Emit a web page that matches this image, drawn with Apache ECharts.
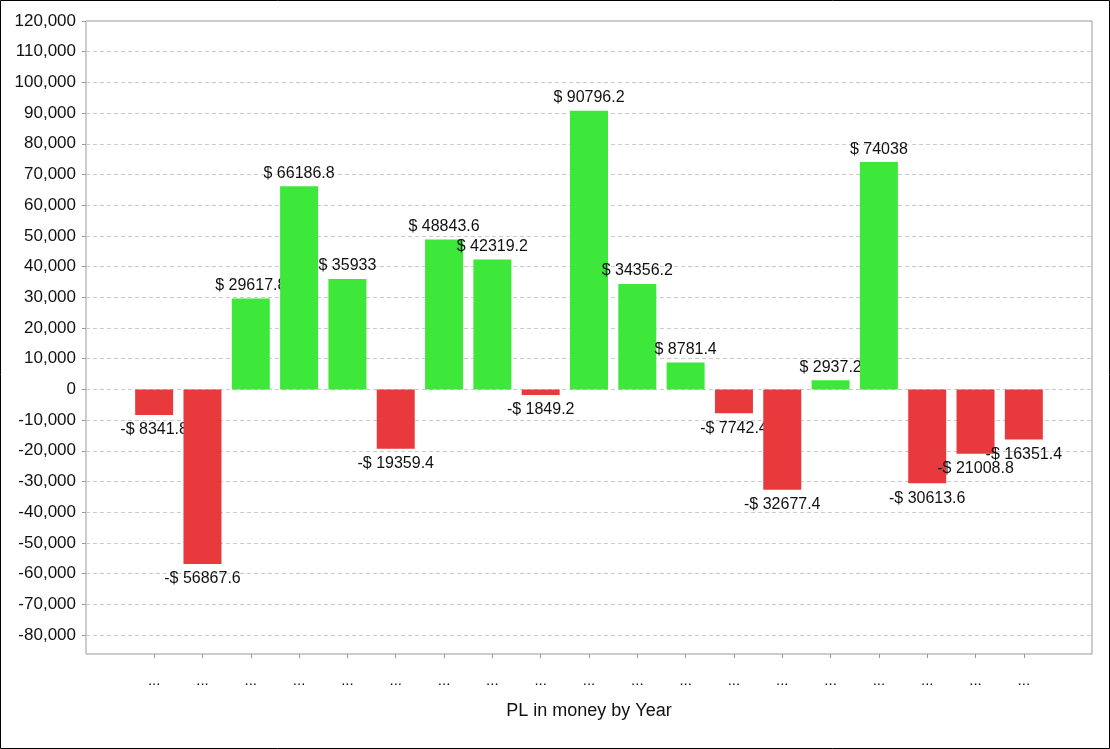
<!DOCTYPE html>
<html>
<head>
<meta charset="utf-8">
<script src="https://cdn.jsdelivr.net/npm/echarts@6/dist/echarts.min.js"></script>
<style>
  html, body { margin: 0; padding: 0; background: #fff; }
  #chart-container { width: 1110px; height: 749px; }
</style>
</head>
<body>
<div id="chart-container"></div>
<script>
var categories = ['...', '...', '...', '...', '...', '...', '...', '...', '...', '...',
  '...', '...', '...', '...', '...', '...', '...', '...', '...'];
var plValues = [-8341.8, -56867.6, 29617.8, 66186.8, 35933, -19359.4, 48843.6, 42319.2, -1849.2,
  90796.2, 34356.2, 8781.4, -7742.4, -32677.4, 2937.2, 74038, -30613.6, -21008.8, -16351.4];
var yTicks = [-80000, -70000, -60000, -50000, -40000, -30000, -20000, -10000, 0, 10000, 20000,
  30000, 40000, 50000, 60000, 70000, 80000, 90000, 100000, 110000, 120000];
var yMin = -86200;
var yMax = 120000;

var GREEN = '#3de83b';
var RED = '#e8393d';
var FONT = 'Arial, "Liberation Sans", sans-serif';

var dom = document.getElementById('chart-container');
var myChart = echarts.init(dom, null, { renderer: 'canvas' });

function fmtMoney(v) {
  return v >= 0 ? '$ ' + v : '-$ ' + Math.abs(v);
}

// one series per bar so a later bar is painted over an earlier bar's label
var series = plValues.map(function (v, i) {
  var item = {
    value: v,
    itemStyle: { color: v >= 0 ? GREEN : RED },
    label: v >= 0 ? { position: 'top', distance: 5 } : { position: 'bottom', distance: 7 }
  };
  return {
    type: 'bar',
    name: 'bar' + i,
    stack: 'pl',
    z: 2 + i,
    xAxisIndex: 1,
    yAxisIndex: 1,
    barWidth: 38,
    data: categories.map(function (c, j) { return j === i ? item : '-'; }),
    label: {
      show: true,
      fontSize: 16,
      color: '#111',
      fontFamily: FONT,
      formatter: function (p) { return fmtMoney(p.value); }
    }
  };
});

var option = {
  animation: false,
  backgroundColor: '#fff',
  graphic: [{
    type: 'rect',
    shape: { x: 0.5, y: 0.5, width: 1109, height: 748 },
    style: { fill: 'none', stroke: '#000', lineWidth: 1 },
    silent: true
  }],
  grid: [
    // frame + y axis
    { left: 86, top: 21, right: 18, bottom: 95, show: true, borderColor: '#999', borderWidth: 1 },
    // bars
    { left: 130, top: 21, right: 62, bottom: 95 }
  ],
  xAxis: [
    {
      gridIndex: 0, type: 'value', min: 0, max: 1,
      axisLine: { show: false }, axisTick: { show: false },
      axisLabel: { show: false }, splitLine: { show: false },
      name: 'PL in money by Year', nameLocation: 'middle', nameGap: 48,
      nameTextStyle: { fontSize: 18, color: '#111', fontFamily: FONT }
    },
    {
      gridIndex: 1, type: 'category', data: categories, position: 'bottom',
      axisLine: { show: false, onZero: false },
      axisTick: { show: true, alignWithLabel: true, length: 4, lineStyle: { color: '#999' } },
      axisLabel: { fontSize: 15, color: '#111', margin: 19, fontFamily: FONT, interval: 0 },
      splitLine: { show: false }
    }
  ],
  yAxis: [
    {
      gridIndex: 0, type: 'value', min: yMin, max: yMax, splitNumber: 20,
      axisLine: { show: false },
      axisTick: { show: true, length: 4, lineStyle: { color: '#999' }, customValues: yTicks },
      axisLabel: {
        fontSize: 17, color: '#111', margin: 10, fontFamily: FONT,
        customValues: yTicks,
        formatter: function (v) {
          return v % 10000 === 0 ? v.toLocaleString('en-US') : '';
        }
      },
      splitLine: { show: true, lineStyle: { color: '#cbcbcb', type: [4, 3], width: 1 } }
    },
    {
      gridIndex: 1, type: 'value', min: yMin, max: yMax, show: false,
      splitLine: { show: false }
    }
  ],
  series: series
};

myChart.setOption(option);
window.addEventListener('resize', myChart.resize);
</script>
</body>
</html>
